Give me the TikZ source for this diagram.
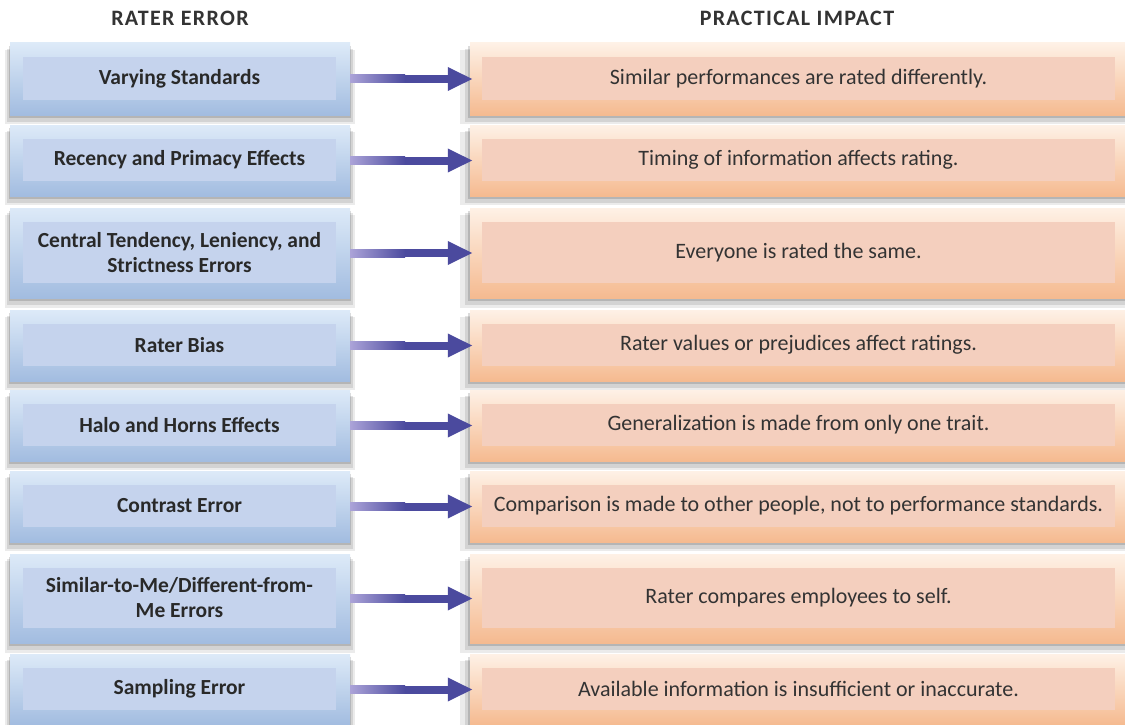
\documentclass[tikz,border=0pt]{standalone}
\usepackage{fontspec}
\setmainfont{Carlito}
\usepackage{xcolor}
\usetikzlibrary{arrows.meta,shadows,calc}

\definecolor{errtop}{HTML}{DDEAF8}
\definecolor{errbot}{HTML}{A2BCE0}
\definecolor{errin}{HTML}{C5D3ED}
\definecolor{imptop}{HTML}{FEF1E6}
\definecolor{impbot}{HTML}{F5BA90}
\definecolor{impin}{HTML}{F4CFBE}
\definecolor{arrdark}{HTML}{4B4A9E}
\definecolor{arrlight}{HTML}{ABA3D8}
\definecolor{headgray}{HTML}{333333}

\begin{document}
\begin{tikzpicture}[
    x=1pt, y=-1pt,
    softshadow/.style={
        general shadow={shadow yshift=-8pt, fill=black, opacity=0.08, shadow scale=1.03},
        general shadow={shadow yshift=-6pt, fill=black, opacity=0.10, shadow scale=1.015},
        general shadow={shadow yshift=-3pt, fill=black, opacity=0.14, shadow scale=1.005}},
    errbox/.style={softshadow, top color=errtop, bottom color=errbot, minimum width=340pt, inner sep=0pt},
    impbox/.style={softshadow, top color=imptop, bottom color=impbot, minimum width=660pt, inner sep=0pt},
    errin/.style={fill=errin, minimum width=313pt, align=center, inner sep=0pt, font=\fontsize{21.5}{25}\selectfont\bfseries, text=headgray!80!black},
    impin/.style={fill=impin, minimum width=633pt, align=center, inner sep=0pt, font=\fontsize{22}{25}\selectfont, text=headgray},
    header/.style={font=\fontsize{22}{24}\selectfont\bfseries\addfontfeature{LetterSpace=6}, text=headgray},
    link/.style={arrdark, line width=8pt, -{Triangle[length=25pt, width=22pt]}}
]
\useasboundingbox (0,0) rectangle (1125,725);
\fill[white] (0,0) rectangle (1125,725);

% Column headers.
\node[header] (hErr) at (180,18) {RATER ERROR};
\node[header] (hImp) at (797,18) {PRACTICAL IMPACT};

% Rows: top, bottom, rater error, practical impact.
\foreach \i/\top/\bot/\err/\imp in {
    1/43/115/{Varying Standards}/{Similar performances are rated differently.},
    2/125/196/{Recency and Primacy Effects}/{Timing of information affects rating.},
    3/208/298/{Central Tendency, Leniency, and\\Strictness Errors}/{Everyone is rated the same.},
    4/310/381/{Rater Bias}/{Rater values or prejudices affect ratings.},
    5/390/461/{Halo and Horns Effects}/{Generalization is made from only one trait.},
    6/471/542/{Contrast Error}/{Comparison is made to other people, not to performance standards.},
    7/554/643/{Similar-to-Me/Different-from-\\Me Errors}/{Rater compares employees to self.},
    8/654/725/{Sampling Error}/{Available information is insufficient or inaccurate.}}
{
    \pgfmathsetmacro{\mid}{(\top+\bot)/2}
    \pgfmathsetmacro{\hgt}{\bot-\top}
    \pgfmathsetmacro{\ihgt}{\bot-\top-29}
    \node[errbox, minimum height=\hgt pt] (err\i) at (180,\mid) {};
    \node[impbox, minimum height=\hgt pt] (imp\i) at (800,\mid) {};
    \node[errin, minimum height=\ihgt pt] (errt\i) at (179.5,\mid-0.5) {\err};
    \node[impin, minimum height=\ihgt pt] (impt\i) at (798.5,\mid-0.5) {\imp};
    % Arrow: dark stroke, lighter start shaded over it.
    \draw[link] (err\i.east) -- ($(imp\i.west)+(3,0)$);
    \shade[left color=arrlight, right color=arrdark] ($(err\i.east)+(0,-4)$) rectangle ($(err\i.east)+(55,4)$);
}

\end{tikzpicture}
\end{document}
